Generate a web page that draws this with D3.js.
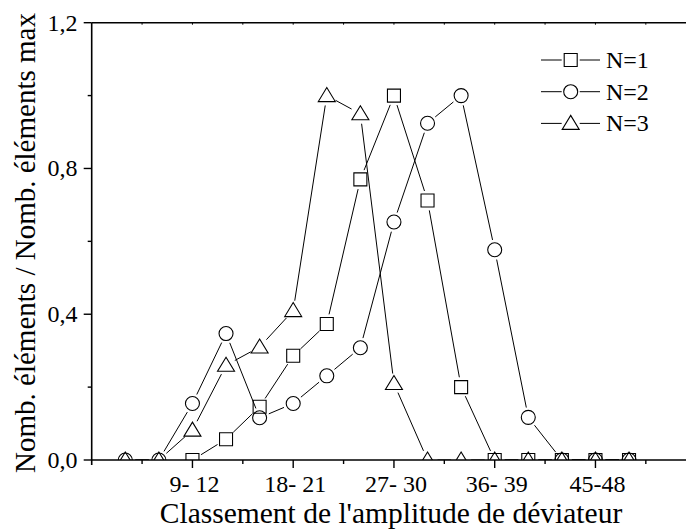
<!DOCTYPE html>
<html><head><meta charset="utf-8">
<script src="https://cdn.jsdelivr.net/npm/d3@7"></script>
<style>body{margin:0;background:#fff}svg{display:block}</style>
</head><body><svg id="c" width="686" height="531" font-family="'Liberation Serif', 'Times New Roman', 'DejaVu Serif', serif"></svg>
<script>
const categories = ["3-6","6-9","9-12","12-15","15-18","18-21","21-24","24-27","27-30","30-33","33-36","36-39","39-42","42-45","45-48","48-51"];
const tickIndex = [2,5,8,11,14];
const tickLabels = ["9- 12","18- 21","27- 30","36- 39","45-48"];
const minorIndex = [0.5,3.5,6.5,9.5,12.5,15.5];
const yTicks = [0,0.4,0.8,1.2];
const yTickLabels = ["0,0","0,4","0,8","1,2"];
const yMinor = [0.2,0.6,1.0];
const seriesNames = ["N=1","N=2","N=3"];
const n1 = [null,null,0,0.057,0.146,0.286,0.373,0.77,1.0,0.712,0.20,0,0,0,0,0];
const n2 = [0,0,0.155,0.347,0.116,0.155,0.231,0.308,0.653,0.924,1.0,0.577,0.117,0,0,0];
const n3 = [0,0,0.082,0.26,0.31,0.41,1.0,0.95,0.21,0,0,0,0,0,0,0];

const svg = d3.select("#c");
const FONT = "'Liberation Serif', 'Times New Roman', 'DejaVu Serif', serif";
const L = 91.7, R = 696.2, T = 22.7, B = 460;
const x = d3.scaleLinear().domain([-1,17]).range([L,R]);
const y = d3.scaleLinear().domain([0,1.2]).range([B,T]);

svg.append("defs").append("clipPath").attr("id","plotclip").append("rect")
  .attr("x",L).attr("y",T-20).attr("width",R-L).attr("height",B-T+20);

const shapes = {
  square: "M-6.5,-6.5H6.5V6.5H-6.5Z",
  circle: "M7,0A7,7 0 1,1 -7,0A7,7 0 1,1 7,0Z",
  triangle: "M0,-8L8.5,6L-8.5,6Z"
};
const series = [
  {name: seriesNames[0], values: n1, shape: "square"},
  {name: seriesNames[1], values: n2, shape: "circle"},
  {name: seriesNames[2], values: n3, shape: "triangle"}
];
const trim = 10;
function segs(pts){
  const out=[];
  for(let i=0;i<pts.length-1;i++){
    const a=pts[i], b=pts[i+1];
    if(!a||!b) continue;
    const dx=b[0]-a[0], dy=b[1]-a[1], d=Math.hypot(dx,dy);
    if(d<=2*trim) continue;
    const ux=dx/d, uy=dy/d;
    out.push([[a[0]+ux*trim,a[1]+uy*trim],[b[0]-ux*trim,b[1]-uy*trim]]);
  }
  return out;
}
const plot = svg.append("g").attr("clip-path","url(#plotclip)");
series.forEach(s=>{
  const pts = s.values.map((v,i)=> v==null?null:[x(i),y(v)]);
  plot.selectAll(null).data(segs(pts)).enter().append("line")
    .attr("x1",d=>d[0][0]).attr("y1",d=>d[0][1]).attr("x2",d=>d[1][0]).attr("y2",d=>d[1][1])
    .attr("stroke","#000").attr("stroke-width",1);
  plot.selectAll(null).data(pts.filter(p=>p)).enter().append("path")
    .attr("d",shapes[s.shape]).attr("transform",d=>`translate(${d[0]},${d[1]})`)
    .attr("fill","none").attr("stroke","#000").attr("stroke-width",1.1);
});

// axes
const ax = svg.append("g").attr("stroke","#000");
ax.append("line").attr("x1",L).attr("x2",R).attr("y1",B).attr("y2",B).attr("stroke-width",1.6);
ax.append("line").attr("x1",L).attr("x2",R).attr("y1",T).attr("y2",T).attr("stroke-width",1.4);
ax.append("line").attr("x1",L).attr("x2",L).attr("y1",T).attr("y2",B+5).attr("stroke-width",1.6);
ax.selectAll(null).data(tickIndex).enter().append("line")
  .attr("x1",d=>x(d)).attr("x2",d=>x(d)).attr("y1",B).attr("y2",B+8).attr("stroke-width",1.4);
ax.selectAll(null).data(minorIndex).enter().append("line")
  .attr("x1",d=>x(d)).attr("x2",d=>x(d)).attr("y1",B).attr("y2",B+4).attr("stroke-width",1.4);
ax.selectAll(null).data(tickIndex.concat(minorIndex)).enter().append("line")
  .attr("x1",d=>x(d)).attr("x2",d=>x(d)).attr("y1",T).attr("y2",T+2).attr("stroke-width",1);
ax.selectAll(null).data(yTicks).enter().append("line")
  .attr("x1",L-8).attr("x2",L).attr("y1",d=>y(d)).attr("y2",d=>y(d)).attr("stroke-width",1.4);
ax.selectAll(null).data(yMinor).enter().append("line")
  .attr("x1",L-4).attr("x2",L).attr("y1",d=>y(d)).attr("y2",d=>y(d)).attr("stroke-width",1.4);

svg.selectAll(null).data(tickIndex).enter().append("text")
  .attr("font-family",FONT)
  .attr("x",d=>x(d)+2).attr("y",491.7).attr("text-anchor","middle").attr("font-size",24)
  .text((d,i)=>tickLabels[i]);
svg.selectAll(null).data(yTicks).enter().append("text")
  .attr("font-family",FONT)
  .attr("x",77.5).attr("y",d=>y(d)+8).attr("text-anchor","end").attr("font-size",24)
  .text((d,i)=>yTickLabels[i]);

svg.append("text").attr("font-family",FONT).attr("x",391).attr("y",523).attr("text-anchor","middle").attr("font-size",29.5)
  .text("Classement de l'amplitude de déviateur");
svg.append("text").attr("font-family",FONT).attr("transform","translate(35,243) rotate(-90)").attr("text-anchor","middle").attr("font-size",29)
  .text("Nomb. éléments / Nomb. éléments max");

// legend
const lg = svg.append("g");
series.forEach((s,i)=>{
  const cy = 60 + i*31.7;
  const g = lg.append("g");
  g.append("line").attr("x1",541).attr("x2",570.7-trim+1).attr("y1",cy).attr("y2",cy).attr("stroke","#000");
  g.append("line").attr("x1",570.7+trim-1).attr("x2",600).attr("y1",cy).attr("y2",cy).attr("stroke","#000");
  g.append("path").attr("d",shapes[s.shape]).attr("transform",`translate(570.7,${cy})`)
    .attr("fill","none").attr("stroke","#000").attr("stroke-width",1.1);
  g.append("text").attr("font-family",FONT).attr("x",606).attr("y",cy+8).attr("font-size",24).text(s.name);
});
</script></body></html>
